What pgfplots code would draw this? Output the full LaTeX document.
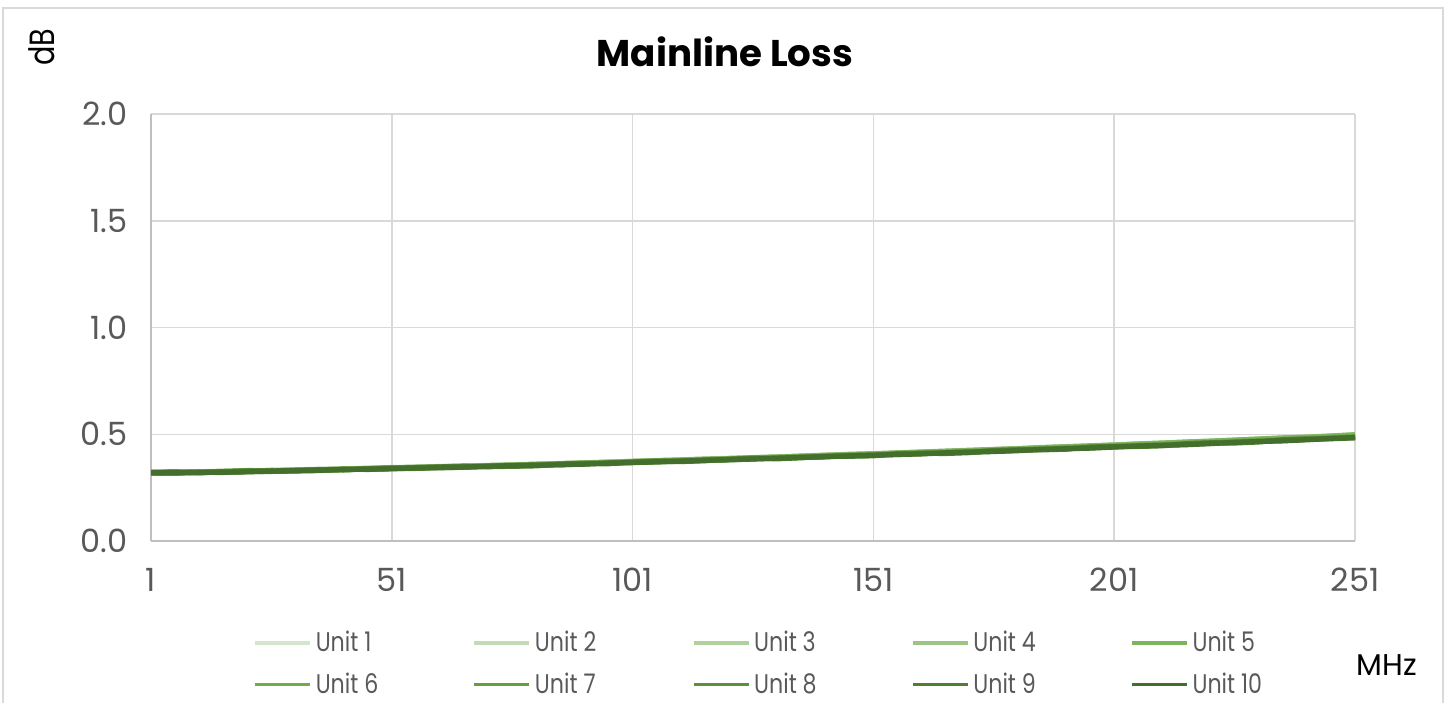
\documentclass[border=0pt]{standalone}
\usepackage{fontspec}
\setmainfont{Poppins}[FakeStretch=0.82]
\newfontfamily\tickfont{Poppins}
\usepackage{pgfplots}
\pgfplotsset{compat=1.18}
\usepackage{pgfplotstable}
\definecolor{gridc}{HTML}{D9D9D9}
\definecolor{axisc}{HTML}{BFBFBF}
\definecolor{labelc}{HTML}{595959}
\definecolor{c1}{HTML}{D4E5CB}
\definecolor{c2}{HTML}{C3DBB4}
\definecolor{c3}{HTML}{B0D09D}
\definecolor{c4}{HTML}{9CC485}
\definecolor{c5}{HTML}{7EB35F}
\definecolor{c6}{HTML}{70AD47}
\definecolor{c7}{HTML}{65A03F}
\definecolor{c8}{HTML}{5B9239}
\definecolor{c9}{HTML}{4F8032}
\definecolor{c10}{HTML}{446E2B}
\pgfplotstableread{
x u1 u2 u3 u4 u5 u6 u7 u8 u9 u10
1 0.321 0.320 0.322 0.319 0.321 0.320 0.322 0.318 0.321 0.319
6 0.323 0.320 0.324 0.318 0.322 0.320 0.323 0.317 0.322 0.321
11 0.323 0.322 0.324 0.321 0.320 0.323 0.321 0.322 0.319 0.322
16 0.325 0.323 0.327 0.322 0.324 0.326 0.323 0.321 0.325 0.322
21 0.327 0.326 0.328 0.325 0.327 0.330 0.326 0.325 0.328 0.324
26 0.329 0.327 0.330 0.329 0.326 0.329 0.331 0.326 0.328 0.327
31 0.331 0.330 0.332 0.333 0.329 0.331 0.330 0.328 0.331 0.329
36 0.333 0.335 0.332 0.336 0.333 0.331 0.334 0.330 0.334 0.331
41 0.336 0.337 0.335 0.338 0.336 0.335 0.334 0.337 0.333 0.335
46 0.339 0.338 0.340 0.341 0.337 0.336 0.339 0.335 0.338 0.336
51 0.342 0.343 0.341 0.344 0.342 0.340 0.341 0.339 0.342 0.338
56 0.345 0.344 0.343 0.346 0.345 0.341 0.344 0.340 0.343 0.342
61 0.347 0.348 0.346 0.349 0.348 0.345 0.346 0.344 0.347 0.343
66 0.349 0.351 0.348 0.351 0.349 0.346 0.349 0.345 0.350 0.346
71 0.352 0.353 0.351 0.354 0.353 0.350 0.349 0.351 0.348 0.350
76 0.355 0.354 0.356 0.357 0.355 0.352 0.351 0.354 0.350 0.353
81 0.358 0.359 0.357 0.360 0.359 0.357 0.355 0.356 0.352 0.355
86 0.361 0.362 0.360 0.363 0.362 0.358 0.360 0.357 0.361 0.357
91 0.364 0.365 0.363 0.366 0.366 0.363 0.362 0.361 0.363 0.360
96 0.368 0.367 0.369 0.370 0.368 0.365 0.364 0.366 0.362 0.365
101 0.371 0.372 0.370 0.373 0.373 0.370 0.369 0.368 0.370 0.367
106 0.374 0.376 0.374 0.377 0.376 0.372 0.373 0.370 0.374 0.371
111 0.377 0.378 0.377 0.380 0.379 0.376 0.375 0.374 0.372 0.374
116 0.381 0.381 0.380 0.384 0.383 0.379 0.377 0.380 0.376 0.378
121 0.385 0.385 0.384 0.387 0.386 0.383 0.382 0.381 0.383 0.380
126 0.388 0.389 0.387 0.391 0.389 0.386 0.387 0.384 0.388 0.384
131 0.392 0.393 0.391 0.394 0.393 0.390 0.389 0.388 0.385 0.388
136 0.395 0.396 0.395 0.398 0.397 0.392 0.393 0.391 0.390 0.392
141 0.399 0.400 0.399 0.402 0.401 0.397 0.396 0.395 0.397 0.394
146 0.403 0.403 0.402 0.406 0.405 0.400 0.398 0.401 0.397 0.399
151 0.407 0.407 0.406 0.409 0.408 0.404 0.403 0.402 0.399 0.402
156 0.411 0.410 0.411 0.413 0.412 0.407 0.408 0.405 0.409 0.405
161 0.414 0.415 0.414 0.417 0.416 0.412 0.410 0.409 0.411 0.408
166 0.418 0.419 0.417 0.421 0.420 0.415 0.413 0.414 0.410 0.413
171 0.422 0.423 0.422 0.425 0.424 0.419 0.418 0.417 0.414 0.416
176 0.426 0.427 0.426 0.429 0.428 0.423 0.422 0.420 0.424 0.419
181 0.430 0.431 0.430 0.433 0.432 0.428 0.426 0.425 0.427 0.423
186 0.434 0.435 0.433 0.438 0.437 0.432 0.429 0.430 0.427 0.429
191 0.439 0.440 0.438 0.442 0.441 0.436 0.434 0.433 0.430 0.432
196 0.443 0.444 0.443 0.446 0.445 0.440 0.438 0.436 0.440 0.435
201 0.447 0.448 0.447 0.450 0.449 0.444 0.442 0.441 0.443 0.440
206 0.451 0.452 0.451 0.455 0.454 0.448 0.445 0.446 0.443 0.445
211 0.456 0.457 0.455 0.459 0.458 0.452 0.450 0.449 0.446 0.448
216 0.460 0.461 0.460 0.464 0.463 0.456 0.455 0.452 0.456 0.451
221 0.465 0.466 0.465 0.468 0.467 0.461 0.459 0.458 0.460 0.456
226 0.469 0.470 0.469 0.473 0.472 0.466 0.463 0.463 0.459 0.462
231 0.474 0.475 0.474 0.478 0.477 0.470 0.468 0.467 0.464 0.466
236 0.479 0.480 0.479 0.483 0.482 0.474 0.473 0.470 0.474 0.469
241 0.484 0.485 0.483 0.487 0.486 0.479 0.477 0.476 0.478 0.474
246 0.489 0.490 0.488 0.492 0.491 0.484 0.481 0.482 0.479 0.480
251 0.494 0.495 0.493 0.498 0.497 0.489 0.487 0.486 0.483 0.485
}\data
\begin{document}
\begin{tikzpicture}
\useasboundingbox (0,0) rectangle (725.5pt,351pt);
\draw[gridc, line width=0.75pt] (1.5pt,-10pt) rectangle (721.5pt,347pt);
\begin{axis}[
  at={(75.5pt,80.5pt)}, anchor=south west,
  scale only axis, width=602pt, height=213.5pt,
  xmin=1, xmax=251, ymin=0, ymax=2,
  xtick={1,51,...,251}, ytick={0,0.5,...,2},
  /pgf/number format/assume math mode=true,
  y tick label style={/pgf/number format/fixed, /pgf/number format/fixed zerofill, /pgf/number format/precision=1},
  xticklabel style={yshift=-8pt},
  yticklabel style={xshift=-6pt},
  ticklabel style={font=\tickfont\fontsize{16}{18}\selectfont, text=labelc},
  grid=major, grid style={gridc, line width=0.75pt},
  axis x line=bottom, axis y line=left,
  axis line style={draw=axisc, line width=0.75pt, -},
  major tick style={draw=none},
  title={\textbf{Mainline Loss}},
  title style={at={(axis description cs:0.4767,1.117)}, anchor=center, font=\tickfont\fontsize{18.6}{20}\selectfont},
  xlabel={MHz},
  xlabel style={at={(axis description cs:1.0266,-0.29)}, anchor=center, font=\tickfont\fontsize{15}{17}\selectfont},
  ylabel={dB},
  ylabel style={at={(axis description cs:-0.0905,1.157)}, anchor=center, rotate=0, font=\fontsize{17.5}{19}\selectfont},
  legend columns=5,
  legend style={at={(axis description cs:0,0)}, anchor=north west, xshift=48pt, yshift=-41pt,
    draw=none, fill=none, font=\fontsize{13.5}{15}\selectfont, text=labelc, column sep=0pt, row sep=5pt},
  legend image code/.code={\draw[line width=1.7pt] (0pt,0pt) -- (27.5pt,0pt);},
  every axis plot/.append style={line width=2.6pt, line join=round},
]
\addplot[c1] table[x=x,y=u1]{\data};
\addplot[c2] table[x=x,y=u2]{\data};
\addplot[c3] table[x=x,y=u3]{\data};
\addplot[c4] table[x=x,y=u4]{\data};
\addplot[c5] table[x=x,y=u5]{\data};
\addplot[c6] table[x=x,y=u6]{\data};
\addplot[c7] table[x=x,y=u7]{\data};
\addplot[c8] table[x=x,y=u8]{\data};
\addplot[c9] table[x=x,y=u9]{\data};
\addplot[c10] table[x=x,y=u10]{\data};
\legend{\makebox[76.4pt][l]{Unit 1},\makebox[76.4pt][l]{Unit 2},\makebox[76.4pt][l]{Unit 3},\makebox[76.4pt][l]{Unit 4},\makebox[76.4pt][l]{Unit 5},\makebox[76.4pt][l]{Unit 6},\makebox[76.4pt][l]{Unit 7},\makebox[76.4pt][l]{Unit 8},\makebox[76.4pt][l]{Unit 9},\makebox[76.4pt][l]{Unit 10}}
\end{axis}
\end{tikzpicture}
\end{document}
